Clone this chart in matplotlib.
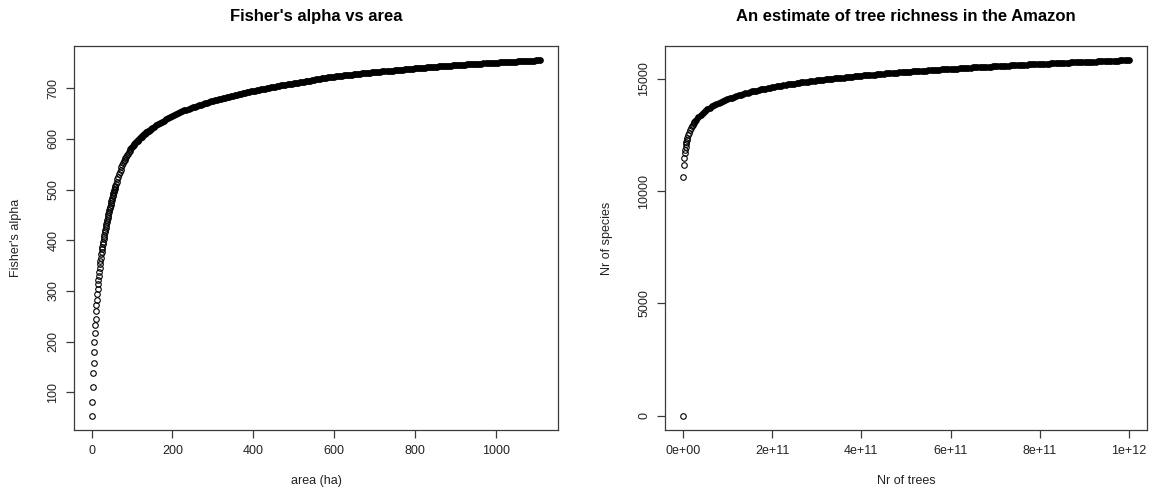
import matplotlib
matplotlib.use("Agg")
import matplotlib.pyplot as plt

plt.rcParams['font.family'] = ['Liberation Sans', 'DejaVu Sans']

# --- left panel: Fisher's alpha vs area ---
area_a = list(range(1, 61))
alpha_a = [54, 82, 111, 138, 158, 179, 200, 217, 232, 245, 260, 272,
           283, 295, 304, 313, 321, 330, 338, 345, 353, 359, 366, 372,
           377, 382, 387, 392, 397, 402, 407, 411, 416, 420, 424, 428,
           432, 436, 440, 444, 448, 452, 456, 459, 463, 466, 470, 473,
           477, 480, 483, 487, 490, 493, 496, 499, 502, 505, 507, 510]

area_b = list(range(62, 151, 2))
alpha_b = [515, 520, 525, 530, 535, 539, 544, 548, 552, 556, 559, 562,
           565, 568, 571, 574, 576, 579, 581, 583, 585, 587, 589, 591,
           593, 595, 596, 598, 600, 601, 603, 604, 606, 607, 609, 610,
           611, 613, 614, 615, 616, 617, 619, 620, 621]

area_c = list(range(155, 1111, 5))
alpha_c = [
    624, 627, 629, 632, 634, 636, 639, 641, 643, 645, 647, 649, 650, 652, 654, 656,
    657, 659, 660, 662, 663, 665, 666, 667, 669, 670, 671, 672, 674, 675, 676, 677,
    678, 679, 680, 681, 682, 683, 684, 685, 686, 687, 688, 689, 690, 691, 692, 693,
    694, 694, 695, 696, 697, 698, 699, 699, 700, 701, 702, 703, 703, 704, 705, 706,
    706, 707, 708, 708, 709, 710, 710, 711, 712, 712, 713, 714, 714, 715, 716, 716,
    717, 718, 718, 719, 719, 720, 721, 721, 722, 722, 723, 723, 724, 724, 725, 725,
    726, 726, 726, 727, 727, 728, 728, 729, 729, 730, 730, 730, 731, 731, 732, 732,
    732, 733, 733, 733, 734, 734, 734, 735, 735, 736, 736, 736, 737, 737, 737, 738,
    738, 739, 739, 739, 740, 740, 740, 741, 741, 741, 742, 742, 742, 743, 743, 743,
    743, 744, 744, 744, 745, 745, 745, 745, 746, 746, 746, 747, 747, 747, 747, 748,
    748, 748, 748, 749, 749, 749, 749, 750, 750, 750, 750, 751, 751, 751, 751, 752,
    752, 752, 752, 752, 753, 753, 753, 753, 754, 754, 754, 754, 754, 755, 755, 755,
]

area = area_a + area_b + area_c
alpha = alpha_a + alpha_b + alpha_c

# --- right panel: estimated tree richness (trees in billions) ---
trees_a = [0, 1, 2, 3, 4, 5, 6, 7, 8, 9, 10, 12, 14, 16, 18, 20, 22, 24, 26, 28, 30,
           35, 40, 45, 50, 55, 60, 65, 70, 75, 80, 85, 90, 95, 100]
species_a = [0, 10630, 11150, 11460, 11680, 11840, 11980, 12090, 12190, 12280,
             12360, 12500, 12610, 12710, 12800, 12880, 12950, 13020, 13080, 13130,
             13190, 13300, 13400, 13490, 13570, 13640, 13710, 13770, 13830, 13880,
             13930, 13980, 14020, 14060, 14100]

trees_b = list(range(105, 1001, 5))
species_b = [
    14140, 14170, 14210, 14240, 14270, 14300, 14330, 14350, 14380, 14410,
    14440, 14460, 14480, 14510, 14530, 14550, 14570, 14590, 14610, 14630,
    14650, 14670, 14690, 14700, 14720, 14730, 14750, 14760, 14780, 14790,
    14810, 14820, 14840, 14850, 14860, 14880, 14890, 14900, 14920, 14930,
    14940, 14950, 14960, 14980, 14990, 15000, 15010, 15020, 15030, 15040,
    15050, 15060, 15070, 15080, 15090, 15100, 15110, 15120, 15130, 15140,
    15150, 15160, 15170, 15170, 15180, 15190, 15200, 15210, 15220, 15230,
    15240, 15240, 15250, 15260, 15270, 15280, 15290, 15290, 15300, 15310,
    15320, 15320, 15330, 15340, 15350, 15350, 15360, 15370, 15370, 15380,
    15390, 15390, 15400, 15410, 15410, 15420, 15430, 15430, 15440, 15450,
    15450, 15460, 15460, 15470, 15480, 15480, 15490, 15500, 15500, 15510,
    15510, 15520, 15520, 15530, 15540, 15540, 15550, 15550, 15560, 15560,
    15570, 15570, 15580, 15580, 15590, 15590, 15600, 15600, 15610, 15610,
    15620, 15620, 15630, 15630, 15640, 15640, 15650, 15650, 15660, 15660,
    15670, 15670, 15680, 15680, 15690, 15690, 15700, 15700, 15710, 15710,
    15710, 15720, 15720, 15730, 15730, 15740, 15740, 15740, 15750, 15750,
    15760, 15760, 15760, 15770, 15770, 15780, 15780, 15780, 15790, 15790,
    15800, 15800, 15800, 15810, 15810, 15820, 15820, 15820, 15830, 15830,
]

trees = [t * 1e9 for t in trees_a + trees_b]
species = species_a + species_b

left_xticks = [0, 200, 400, 600, 800, 1000]
left_yticks = [100, 200, 300, 400, 500, 600, 700]
right_xticks = [0, 2e11, 4e11, 6e11, 8e11, 1e12]
right_xlabels = ['0e+00', '2e+11', '4e+11', '6e+11', '8e+11', '1e+12']
right_yticks = [0, 5000, 10000, 15000]

W, H = 1157, 494
fig = plt.figure(figsize=(W / 100, H / 100), dpi=100)

box_top, box_bot = 46, 430
ax1 = fig.add_axes([74 / W, (H - box_bot) / H, 484 / W, (box_bot - box_top) / H])
ax2 = fig.add_axes([665 / W, (H - box_bot) / H, 482 / W, (box_bot - box_top) / H])


def r_style(ax, title, xlabel, ylabel):
    ax.margins(x=0.04, y=0.04)
    for s in ax.spines.values():
        s.set_linewidth(0.9)
        s.set_color('#3a3a3a')
    ax.tick_params(direction='out', length=5.5, width=0.9, color='#3a3a3a',
                   labelsize=9, labelcolor='#222222', pad=5)
    ax.tick_params(axis='y', labelrotation=90)
    for lab in ax.get_yticklabels():
        lab.set_va('center')
    ax.set_title(title, fontsize=12, fontweight='bold', pad=18)
    ax.set_xlabel(xlabel, fontsize=9, color='#222222', va='center')
    ax.set_ylabel(ylabel, fontsize=9, color='#222222', va='center')
    ax.xaxis.set_label_coords(0.5, -51 / 384)
    ax.yaxis.set_label_coords(-58 / 484, 0.5)


def draw_points(ax, xs, ys, dense_from):
    # open circles; where points pile up (dense part) the rings merge into a solid band
    sparse = [(x, y) for x, y in zip(xs, ys) if x < dense_from]
    dense = [(x, y) for x, y in zip(xs, ys) if x >= dense_from]
    mk = dict(linestyle='none', marker='o', markersize=4.0,
              markeredgecolor='black', markeredgewidth=0.8)
    ax.plot([p[0] for p in sparse], [p[1] for p in sparse], markerfacecolor='none', **mk)
    ax.plot([p[0] for p in dense], [p[1] for p in dense], markerfacecolor='black', **mk)


draw_points(ax1, area, alpha, 100)
ax1.set_xticks(left_xticks)
ax1.set_yticks(left_yticks)
r_style(ax1, "Fisher's alpha vs area", 'area (ha)', "Fisher's alpha")

draw_points(ax2, trees, species, 30e9)
ax2.set_xticks(right_xticks)
ax2.set_xticklabels(right_xlabels)
ax2.set_yticks(right_yticks)
r_style(ax2, 'An estimate of tree richness in the Amazon', 'Nr of trees', 'Nr of species')

fig.savefig('out.png', dpi=100)
